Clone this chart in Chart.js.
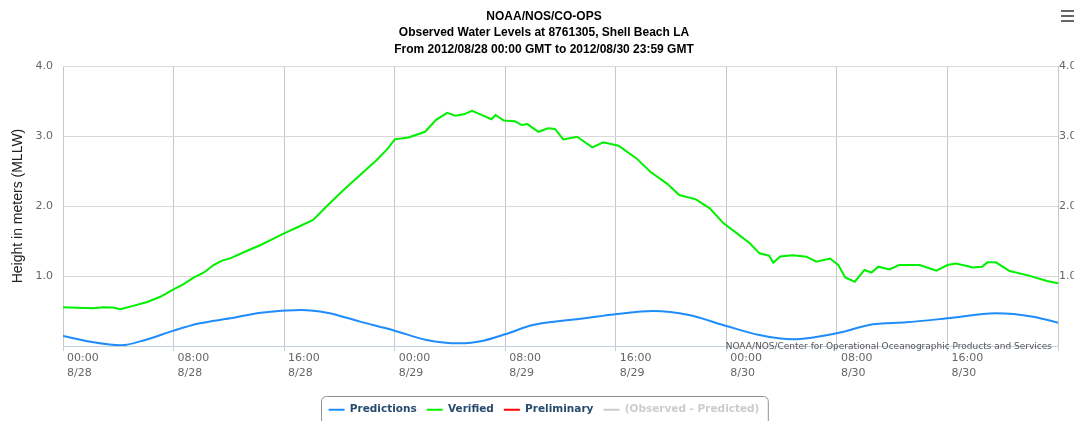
<!DOCTYPE html>
<html>
<head>
<meta charset="utf-8">
<title>Observed Water Levels at 8761305, Shell Beach LA</title>
<script src="https://cdn.jsdelivr.net/npm/chart.js@4.4.0/dist/chart.umd.min.js"></script>
<style>
    html, body { margin: 0; padding: 0; background: #fff; }
    #wrap { position: relative; width: 1074px; height: 421px; }
</style>
</head>
<body>
<div id="wrap"><canvas id="waterChart" width="1074" height="421"></canvas></div>
<script>
// hours since 2012/08/28 00:00 GMT, levels in meters (MLLW)
const predictionHours = [0, 2, 4.2, 6, 8, 9.9, 12.1, 14.3, 17.2, 19.1, 21.5, 24, 26.3, 28.7, 30.5, 32, 34, 36, 37.2, 40.1, 42.7, 45.3, 48, 50.4, 52.8, 56, 58.6, 61, 64, 67.5, 70.2, 72];
const predictionLevels = [0.143, 0.06, 0.01, 0.09, 0.22, 0.324, 0.395, 0.476, 0.514, 0.476, 0.348, 0.219, 0.086, 0.038, 0.08, 0.167, 0.3, 0.357, 0.381, 0.457, 0.5, 0.443, 0.286, 0.157, 0.095, 0.181, 0.31, 0.338, 0.395, 0.467, 0.419, 0.333];

const verifiedHours = [0, 1, 2.2, 2.9, 3.6, 4.16, 5, 6.1, 7, 8, 8.7, 9.45, 10.2, 10.9, 11.5, 12.1, 13.2, 14.3, 15.2, 16, 17, 18.1, 19.1, 20.3, 21.5, 22.7, 23.5, 24, 25, 26.2, 27, 27.8, 28.4, 29, 29.6, 30.2, 31, 31.3, 31.9, 32.7, 33.2, 33.6, 34.4, 35.1, 35.6, 36.2, 37.2, 38.3, 39.1, 40.2, 41.5, 42.5, 43.7, 44.6, 45.8, 46.8, 47.8, 48.7, 49.7, 50.4, 51.1, 51.4, 51.9, 52.8, 53.8, 54.5, 55.5, 56.1, 56.6, 57.3, 58, 58.5, 59, 59.8, 60.5, 62, 63.2, 64, 64.6, 65.5, 65.8, 66.5, 66.9, 67.5, 68.5, 69.9, 71.2, 72];
const verifiedLevels = [0.553, 0.545, 0.54, 0.553, 0.55, 0.524, 0.57, 0.628, 0.7, 0.81, 0.88, 0.976, 1.05, 1.157, 1.22, 1.252, 1.35, 1.443, 1.53, 1.61, 1.7, 1.8, 2.0, 2.229, 2.443, 2.657, 2.82, 2.952, 2.98, 3.06, 3.23, 3.33, 3.29, 3.31, 3.36, 3.31, 3.24, 3.3, 3.22, 3.21, 3.157, 3.17, 3.06, 3.11, 3.1, 2.952, 2.99, 2.838, 2.91, 2.86, 2.68, 2.49, 2.32, 2.157, 2.095, 1.967, 1.752, 1.62, 1.467, 1.324, 1.29, 1.19, 1.28, 1.295, 1.276, 1.205, 1.25, 1.157, 0.98, 0.919, 1.086, 1.05, 1.133, 1.095, 1.157, 1.157, 1.076, 1.157, 1.18, 1.14, 1.12, 1.133, 1.195, 1.195, 1.071, 1.005, 0.929, 0.895];

const xTickLabels = [
    ['00:00', '8/28'], ['08:00', '8/28'], ['16:00', '8/28'],
    ['00:00', '8/29'], ['08:00', '8/29'], ['16:00', '8/29'],
    ['00:00', '8/30'], ['08:00', '8/30'], ['16:00', '8/30'], ''
];
const yTickLabels = ['', '1.0', '2.0', '3.0', '4.0'];

const titleLines = [
    'NOAA/NOS/CO-OPS',
    'Observed Water Levels at 8761305, Shell Beach LA',
    'From 2012/08/28 00:00 GMT to 2012/08/30 23:59 GMT'
];
const yAxisTitle = 'Height in meters (MLLW)';
const creditText = 'NOAA/NOS/Center for Operational Oceanographic Products and Services';

function pairs(xs, ys) {
    return xs.map((x, i) => ({ x: x, y: ys[i] }));
}

const tickFont = { family: 'DejaVu Sans', size: 11, lineHeight: 1.36 };

// legend frame, axis title, credits and the menu icon
const extrasPlugin = {
    id: 'extras',
    afterDraw(chart) {
        const ctx = chart.ctx;
        const area = chart.chartArea;
        const boxes = chart.legend.legendHitBoxes;
        if (boxes && boxes.length) {
            const left = Math.min(...boxes.map(b => b.left)) - 8;
            const right = Math.max(...boxes.map(b => b.left + b.width)) + 8;
            const top = boxes[0].top - 9;
            ctx.save();
            ctx.strokeStyle = '#909090';
            ctx.lineWidth = 1;
            ctx.beginPath();
            ctx.roundRect(Math.round(left) + 0.5, Math.round(top) + 0.5, right - left, 40, 5);
            ctx.stroke();
            ctx.restore();
        }

        ctx.save();
        ctx.translate(18, (area.top + area.bottom) / 2);
        ctx.rotate(-Math.PI / 2);
        ctx.font = '14px "Liberation Sans"';
        ctx.fillStyle = '#222';
        ctx.textAlign = 'center';
        ctx.textBaseline = 'middle';
        ctx.fillText(yAxisTitle, 0, 0);
        ctx.restore();

        ctx.save();
        ctx.font = '9px "DejaVu Sans"';
        ctx.fillStyle = '#555';
        ctx.textAlign = 'right';
        ctx.textBaseline = 'alphabetic';
        ctx.fillText(creditText, area.right - 6, area.bottom + 3);

        ctx.fillStyle = '#666';
        [10, 15, 20].forEach(y => ctx.fillRect(1061, y, 13, 2));
        ctx.restore();
    }
};

const chart = new Chart(document.getElementById('waterChart'), {
    type: 'line',
    data: {
        datasets: [
            {
                label: 'Predictions',
                data: pairs(predictionHours, predictionLevels),
                borderColor: '#1E8CFA',
                backgroundColor: '#1E8CFA',
                borderWidth: 2,
                pointRadius: 0,
                cubicInterpolationMode: 'monotone'
            },
            {
                label: 'Verified',
                data: pairs(verifiedHours, verifiedLevels),
                borderColor: '#00F000',
                backgroundColor: '#00F000',
                borderWidth: 2,
                pointRadius: 0,
                tension: 0
            },
            {
                label: 'Preliminary',
                data: [],
                borderColor: '#FF0000',
                backgroundColor: '#FF0000',
                borderWidth: 2,
                pointRadius: 0
            },
            {
                label: '(Observed - Predicted)',
                data: [],
                borderColor: '#CCCCCC',
                backgroundColor: '#CCCCCC',
                borderWidth: 2,
                pointRadius: 0
            }
        ]
    },
    options: {
        responsive: false,
        animation: false,
        devicePixelRatio: 1,
        // legend sits partly below the canvas edge, like the original
        layout: { padding: { left: 14, bottom: -4 } },
        plugins: {
            title: {
                display: true,
                text: titleLines,
                color: '#000',
                font: { family: 'Liberation Sans', size: 12, weight: 'bold', lineHeight: 1.375 },
                padding: { top: 8, bottom: 8.5 }
            },
            legend: {
                position: 'bottom',
                labels: {
                    usePointStyle: true,
                    pointStyle: 'line',
                    pointStyleWidth: 16,
                    padding: 10,
                    color: '#274b6d',
                    font: { family: 'DejaVu Sans', size: 10.5, weight: 'bold' },
                    generateLabels(c) {
                        return c.data.datasets.map((ds, i) => {
                            const muted = i === 3;
                            return {
                                text: ds.label,
                                fillStyle: ds.borderColor,
                                strokeStyle: ds.borderColor,
                                lineWidth: 2,
                                pointStyle: 'line',
                                hidden: false,
                                fontColor: muted ? '#CCCCCC' : '#274b6d',
                                datasetIndex: i
                            };
                        });
                    }
                }
            },
            tooltip: { enabled: false }
        },
        scales: {
            x: {
                type: 'linear',
                min: 0,
                max: 72,
                afterFit(scale) { scale.height = 48.5; },
                grid: { color: '#C8C8C8', tickColor: '#C0D0E0', tickLength: 5, drawTicks: true },
                border: { display: true, color: '#C0D0E0' },
                ticks: {
                    stepSize: 8,
                    autoSkip: false,
                    maxRotation: 0,
                    align: 'start',
                    labelOffset: 4,
                    padding: 0,
                    color: '#666',
                    font: tickFont,
                    callback: v => xTickLabels[Math.round(v / 8)]
                }
            },
            y: {
                position: 'left',
                min: 0,
                max: 4,
                afterFit(scale) { scale.width = 49; },
                grid: { color: '#D8D8D8', drawTicks: false },
                border: { display: false },
                ticks: {
                    stepSize: 1,
                    padding: 10,
                    color: '#666',
                    font: tickFont,
                    callback: v => yTickLabels[Math.round(v)]
                }
            },
            y2: {
                position: 'right',
                min: 0,
                max: 4,
                afterFit(scale) { scale.width = 16; },
                grid: { display: false, drawTicks: false },
                border: { display: false },
                ticks: {
                    stepSize: 1,
                    padding: 1,
                    color: '#666',
                    font: tickFont,
                    callback: v => yTickLabels[Math.round(v)]
                }
            }
        }
    },
    plugins: [extrasPlugin]
});
</script>
</body>
</html>
